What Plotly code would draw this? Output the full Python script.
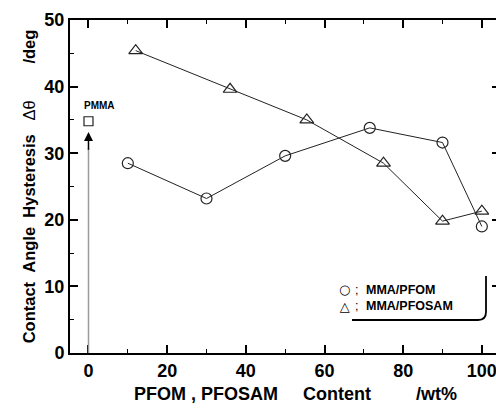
import plotly.graph_objects as go

# Data
pfom_x = [10, 30, 50, 71.5, 90, 100]
pfom_y = [28.5, 23.2, 29.6, 33.8, 31.6, 19.0]
pfosam_x = [12, 36, 55.5, 75, 90, 100]
pfosam_y = [45.4, 39.6, 35.0, 28.5, 19.8, 21.3]
pmma_x = [0]
pmma_y = [34.8]
pmma_label = "PMMA"
x_ticks = [0, 20, 40, 60, 80, 100]
y_ticks = [0, 10, 20, 30, 40, 50]
legend_symbols = ["\u25CB", "\u25B3"]
legend_labels = ["MMA/PFOM", "MMA/PFOSAM"]

FONT = "Liberation Sans, Arial, sans-serif"
W, H = 496, 409
ML, MR, MT, MB = 70, 0, 20, 56
PW, PH = W - ML - MR, H - MT - MB
NB = "\u00a0"


def px2paper(px, py):
    return (px - ML) / PW, (H - MB - py) / PH


fig = go.Figure()

# gray vertical line + arrow to PMMA point
fig.add_shape(type="line", x0=pmma_x[0], x1=pmma_x[0], y0=0, y1=pmma_y[0] - 4,
              xref="x", yref="y", line=dict(color="#9a9a9a", width=1.5))
fig.add_annotation(x=pmma_x[0], y=pmma_y[0] - 1.6, ax=pmma_x[0], ay=pmma_y[0] - 4.5,
                   xref="x", yref="y", axref="x", ayref="y", text="",
                   showarrow=True, arrowhead=2, arrowsize=1.2, arrowwidth=1.5,
                   arrowcolor="black")

fig.add_trace(go.Scatter(x=pfom_x, y=pfom_y, mode="lines+markers",
                         line=dict(color="#222", width=1),
                         marker=dict(symbol="circle-open", size=11, color="#222",
                                     line=dict(width=1.2)),
                         showlegend=False))
fig.add_trace(go.Scatter(x=pfosam_x, y=pfosam_y, mode="lines+markers",
                         line=dict(color="#222", width=1),
                         marker=dict(symbol="triangle-up-open", size=12, color="#222",
                                     line=dict(width=1.2)),
                         showlegend=False))
fig.add_trace(go.Scatter(x=pmma_x, y=pmma_y, mode="markers",
                         marker=dict(symbol="square-open", size=9, color="#222",
                                     line=dict(width=1.2)),
                         showlegend=False))
fig.add_annotation(x=pmma_x[0], y=pmma_y[0], xref="x", yref="y",
                   text=f"<b>{pmma_label}</b>", showarrow=False,
                   xanchor="center", yanchor="bottom", xshift=11, yshift=8,
                   font=dict(family=FONT, size=10, color="black"))

# secondary y axis only for the right-side ticks
fig.add_trace(go.Scatter(x=[None], y=[None], yaxis="y2", showlegend=False))

# legend as annotations (symbols column + separators + labels column)
lx, ly = px2paper(337, 298)
fig.add_annotation(x=lx, y=ly, xref="paper", yref="paper",
                   text="<br>".join(legend_symbols), align="center",
                   showarrow=False, xanchor="left", yanchor="middle",
                   font=dict(family="DejaVu Sans", size=13, color="black"))
sx, _ = px2paper(353, 298)
fig.add_annotation(x=sx, y=ly, xref="paper", yref="paper",
                   text="<br>".join(";" for _ in legend_labels), align="left",
                   showarrow=False, xanchor="left", yanchor="middle",
                   font=dict(family=FONT, size=12.5, color="black"))
tx, _ = px2paper(364, 298)
fig.add_annotation(x=tx, y=ly, xref="paper", yref="paper",
                   text="<br>".join(f"<b>{t}</b>" for t in legend_labels), align="left",
                   showarrow=False, xanchor="left", yanchor="middle",
                   font=dict(family=FONT, size=12.5, color="black"))

# legend frame: right and bottom edges with rounded corner
x1, y1 = px2paper(486, 276)
x2, y2 = px2paper(486, 312)
xc, yc = px2paper(486, 320)
x3, y3 = px2paper(478, 320)
x4, y4 = px2paper(352, 320)
fig.add_shape(type="path", xref="paper", yref="paper",
              path=f"M {x1},{y1} L {x2},{y2} Q {xc},{yc} {x3},{y3} L {x4},{y4}",
              line=dict(color="black", width=1.8))

axis_common = dict(showline=True, linecolor="black", linewidth=2,
                   ticks="inside", tickcolor="black", tickwidth=1.5, ticklen=8,
                   showgrid=False, zeroline=False, automargin=False,
                   ticklabeloverflow="allow",
                   tickfont=dict(family=FONT, size=18, color="black"))

x_title = f"<b>{NB*5}PFOM{NB},{NB}PFOSAM{NB*5}Content{NB*9}/wt%</b>"
y_title = (f"<b>Contact{NB*2}Angle{NB*2}Hysteresis{NB*3}</b>\u0394\u03b8"
           f"{NB*8}<b>/deg</b>")

fig.update_layout(
    width=W, height=H,
    margin=dict(l=ML, r=MR, t=MT, b=MB, autoexpand=False),
    paper_bgcolor="white", plot_bgcolor="white",
    xaxis=dict(range=[-4.7, 103.6], tickvals=x_ticks,
               ticktext=[f"<b>{v}</b>" for v in x_ticks], mirror="ticks",
               minor=dict(ticks="inside", ticklen=4, tickwidth=1.2, tickcolor="black",
                          dtick=10, tick0=0),
               title=dict(text=x_title,
                          font=dict(family=FONT, size=18, color="black"), standoff=8),
               **axis_common),
    yaxis=dict(range=[0, 50], tickvals=y_ticks,
               ticktext=[f"<b>{v}</b>" for v in y_ticks],
               minor=dict(ticks="inside", ticklen=4, tickwidth=1.2, tickcolor="black",
                          dtick=5, tick0=0),
               title=dict(text=y_title,
                          font=dict(family=FONT, size=16.5, color="black"), standoff=5),
               **axis_common),
    yaxis2=dict(range=[0, 50], overlaying="y", side="right", showline=False,
                ticks="inside", tickvals=y_ticks, ticklen=4, tickwidth=1.5,
                tickcolor="black", showticklabels=False, showgrid=False, zeroline=False,
                automargin=False),
)

fig.write_html("out.html", config={"displayModeBar": False},
               post_script="document.body.style.margin='0';document.body.style.overflow='hidden';")
